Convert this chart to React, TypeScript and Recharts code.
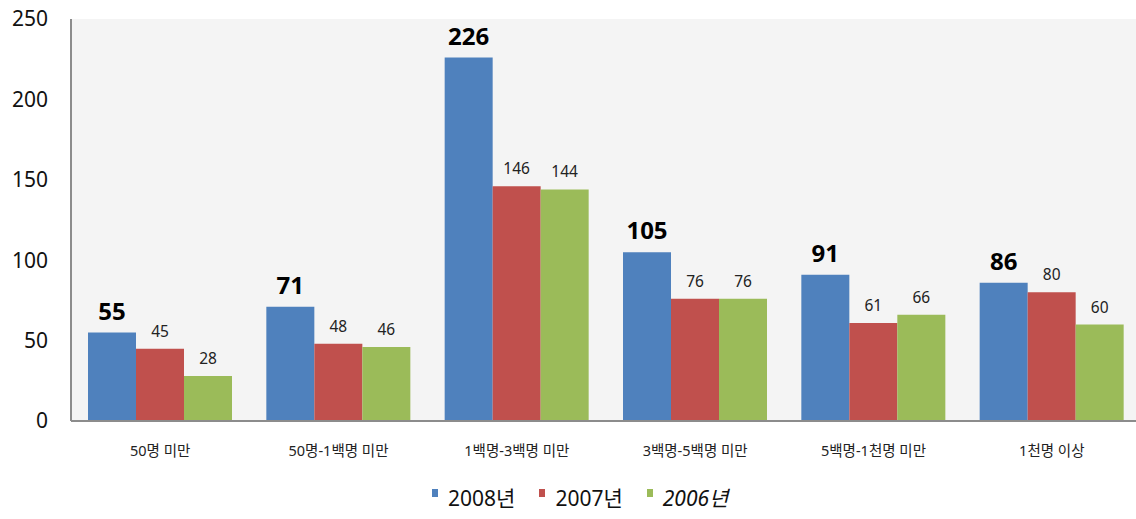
import React from 'react';
import {
    BarChart,
    Bar,
    XAxis,
    YAxis,
    CartesianGrid,
    Legend,
    LabelList
} from 'recharts';

const categories = ['50명 미만', '50명-1백명 미만', '1백명-3백명 미만', '3백명-5백명 미만', '5백명-1천명 미만', '1천명 이상'];
const y2008 = [55, 71, 226, 105, 91, 86];
const y2007 = [45, 48, 146, 76, 61, 80];
const y2006 = [28, 46, 144, 76, 66, 60];
const yTicks = [0, 50, 100, 150, 200, 250];

const seriesMeta = [
    { key: 'y2008', name: '2008년', color: '#4f81bd' },
    { key: 'y2007', name: '2007년', color: '#c0504d' },
    { key: 'y2006', name: '2006년', color: '#9bbb59' }
];

const data = categories.map((c, i) => ({
    category: c,
    y2008: y2008[i],
    y2007: y2007[i],
    y2006: y2006[i]
}));

const FONT = "'Noto Sans', 'Noto Sans CJK KR', sans-serif";

const LegendContent = () => (
    <div style={{ display: 'flex', justifyContent: 'flex-start', paddingTop: 8, paddingLeft: 432, fontFamily: FONT }}>
        {seriesMeta.map((s) => (
            <div key={s.key} style={{ display: 'flex', alignItems: 'flex-start', marginRight: 24 }}>
                <span style={{ width: 6, height: 8, background: s.color, marginTop: 2, marginRight: 10 }} />
                <span style={{ fontSize: 21, lineHeight: '22px', color: '#111', fontStyle: s.key === 'y2006' ? 'italic' : 'normal' }}>
                    {s.name}
                </span>
            </div>
        ))}
    </div>
);

export default function App() {
    return (
        <div style={{ position: 'absolute', left: 0, top: 0, width: 1136, height: 519, overflow: 'hidden', background: '#fff' }}>
            <BarChart
                width={1141}
                height={519}
                data={data}
                margin={{ top: 19, right: 0, left: 0, bottom: 0 }}
                barCategoryGap={17}
                barGap={0}
            >
                <CartesianGrid horizontal={false} vertical={false} fill="#f4f4f4" />
                <XAxis
                    dataKey="category"
                    height={58}
                    tickLine={false}
                    tickSize={0}
                    tickMargin={25}
                    axisLine={{ stroke: '#8c8c8c', strokeWidth: 2 }}
                    tick={{ fill: '#222', fontSize: 14.5, fontFamily: FONT }}
                    interval={0}
                />
                <YAxis
                    width={71}
                    domain={[0, 250]}
                    ticks={yTicks}
                    tickLine={false}
                    tickSize={0}
                    tickMargin={23}
                    axisLine={{ stroke: '#8c8c8c', strokeWidth: 2 }}
                    tick={{ fill: '#111', fontSize: 21, fontFamily: FONT }}
                />
                <Legend
                    verticalAlign="bottom"
                    content={<LegendContent />}
                    wrapperStyle={{ height: 40, width: 1136, left: 0 }}
                />
                <Bar dataKey="y2008" name="2008년" fill="#4f81bd" isAnimationActive={false}>
                    <LabelList dataKey="y2008" position="top" offset={13}
                        style={{ fill: '#000', fontSize: 24, fontWeight: 700, fontFamily: FONT }} />
                </Bar>
                <Bar dataKey="y2007" name="2007년" fill="#c0504d" isAnimationActive={false}>
                    <LabelList dataKey="y2007" position="top" offset={12}
                        style={{ fill: '#222', fontSize: 15.5, fontFamily: FONT }} />
                </Bar>
                <Bar dataKey="y2006" name="2006년" fill="#9bbb59" isAnimationActive={false}>
                    <LabelList dataKey="y2006" position="top" offset={12}
                        style={{ fill: '#222', fontSize: 15.5, fontFamily: FONT }} />
                </Bar>
            </BarChart>
        </div>
    );
}
